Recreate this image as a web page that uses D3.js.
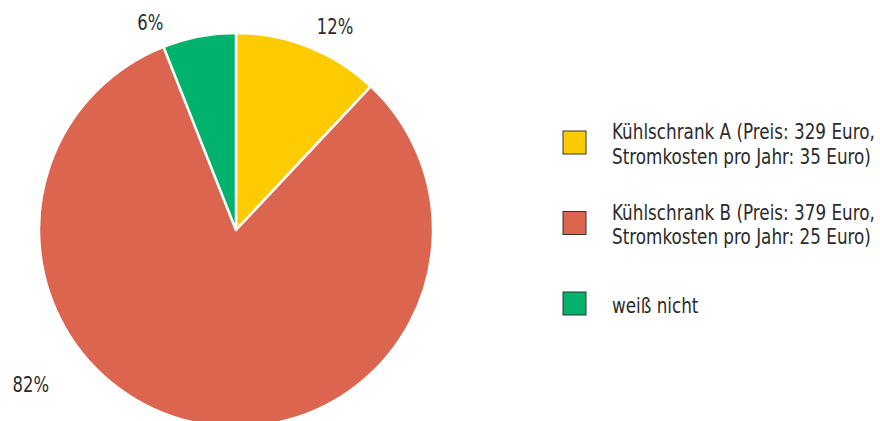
<!DOCTYPE html>
<html>
<head>
<meta charset="utf-8">
<script src="https://cdn.jsdelivr.net/npm/d3@7"></script>
<style>
  body { margin: 0; background: #fff; }
  svg { display: block; }
  text { font-stretch: condensed; }
</style>
</head>
<body>
<div id="canvas"></div>
<script>
// chart data
var categories = ["Kühlschrank A (Preis: 329 Euro,|Stromkosten pro Jahr: 35 Euro)",
                  "Kühlschrank B (Preis: 379 Euro,|Stromkosten pro Jahr: 25 Euro)",
                  "weiß nicht"];
var values = [12, 82, 6];
var labels = ["12%", "82%", "6%"];
var colors = ["#fecb00", "#db654f", "#00b26b"];

var width = 880, height = 421;
var cx = 236, cy = 230, radius = 197;
var font = "'DejaVu Sans Condensed', 'Liberation Sans Narrow', 'DejaVu Sans', sans-serif";
var textColor = "#2b2b2b";
var fontSize = 21;

// label positions: angle (deg, clockwise from top) and distance from center
var labelAngle = [26, 233, -22.5];
var labelDist = [226, 257, 224];

var svg = d3.select("#canvas")
            .append("svg")
            .attr("width", width)
            .attr("height", height);

var pie = d3.pie().sort(null).value(function(d){ return d; });
var arc = d3.arc().innerRadius(0).outerRadius(radius);
var arcs = pie(values);

var g = svg.append("g").attr("transform", "translate(" + cx + "," + cy + ")");

g.selectAll("path")
 .data(arcs)
 .enter()
 .append("path")
 .attr("d", arc)
 .attr("fill", function(d, i){ return colors[i]; })
 .attr("stroke", "#fff")
 .attr("stroke-width", 2.5)
 .attr("stroke-linejoin", "round");

// measure the font so text can be squeezed to the narrow look of the original
var probe = svg.append("text")
               .attr("font-family", font)
               .attr("font-size", fontSize)
               .text("Kühlschrank A (Preis: 329 Euro,");
var squeeze = Math.min(1, 263 / probe.node().getComputedTextLength());
probe.remove();

// percent labels outside the pie
g.selectAll("text.pct")
 .data(arcs)
 .enter()
 .append("text")
 .attr("class", "pct")
 .attr("transform", function(d, i){
   var x = labelDist[i] * Math.sin(labelAngle[i] * Math.PI / 180);
   var y = -labelDist[i] * Math.cos(labelAngle[i] * Math.PI / 180);
   return "translate(" + x + "," + y + ") scale(" + squeeze + ",1)";
 })
 .attr("dy", "0.36em")
 .attr("text-anchor", "middle")
 .attr("font-family", font)
 .attr("font-size", 20.5)
 .attr("fill", textColor)
 .text(function(d, i){ return labels[i]; });

// legend
var legendY = d3.scalePoint().domain(d3.range(categories.length)).range([142.5, 303.5]);

var legend = svg.append("g")
                .selectAll("g")
                .data(categories)
                .enter()
                .append("g")
                .attr("transform", function(d, i){ return "translate(563," + legendY(i) + ")"; });

legend.append("rect")
      .attr("x", 0)
      .attr("y", -11.5)
      .attr("width", 23)
      .attr("height", 23)
      .attr("fill", function(d, i){ return colors[i]; })
      .attr("stroke", "#333")
      .attr("stroke-width", 1);

legend.each(function(d){
  var lines = d.split("|");
  var t = d3.select(this).append("text")
            .attr("transform", "translate(49,0) scale(" + squeeze + ",1)")
            .attr("font-family", font)
            .attr("font-size", fontSize)
            .attr("fill", textColor);
  var start = -(lines.length - 1) * 12.5 + 9;
  lines.forEach(function(line, j){
    t.append("tspan")
     .attr("x", 0)
     .attr("y", start + j * 25)
     .text(line);
  });
});
</script>
</body>
</html>
